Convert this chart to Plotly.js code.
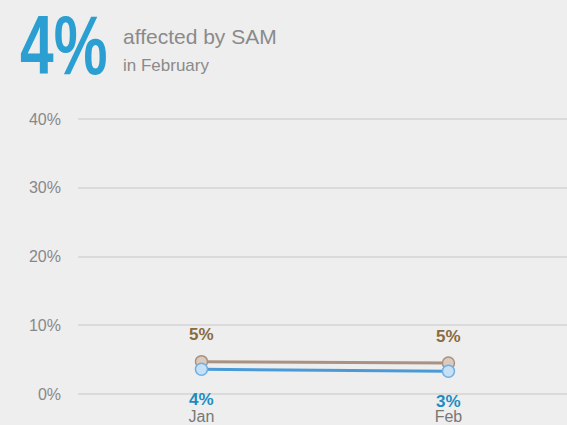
<!DOCTYPE html>
<html><head><meta charset="utf-8">
<script src="https://cdn.plot.ly/plotly-3.0.1.min.js"></script>
<style>html,body{margin:0;padding:0;background:#eeeeee;}#chart{width:567px;height:425px;}</style>
</head><body><div id="chart"></div>
<script>
const months = ['Jan', 'Feb'];
const seriesA = [4.7, 4.5];   // tan series
const seriesB = [3.6, 3.3];   // blue series (SAM)
const yTicks = [0, 10, 20, 30, 40];
const yTickLabels = ['0%', '10%', '20%', '30%', '40%'];
const headline = '4%';

const tanLine = '#a99282', tanFill = '#dccbbd', tanText = '#8a6a40';
const blueLine = '#4a9ad8', blueFill = '#c6e0f6', blueText = '#1b8dc2';

const traces = [
  {x: months, y: seriesA, mode: 'lines+markers', line: {color: tanLine, width: 3},
   marker: {size: 12, color: tanFill, line: {color: tanLine, width: 1.5}}, hoverinfo: 'none'},
  {x: months, y: seriesB, mode: 'lines+markers', line: {color: blueLine, width: 3},
   marker: {size: 12, color: blueFill, line: {color: '#6db0e6', width: 1.5}}, hoverinfo: 'none'}
];

const annotations = [];
months.forEach((m, i) => {
  annotations.push({x: m, y: seriesA[i], xref: 'x', yref: 'y', text: '<b>' + Math.round(seriesA[i]) + '%</b>',
    showarrow: false, yshift: 27, font: {family: 'Liberation Sans, Arial, sans-serif', size: 17, color: tanText}});
  annotations.push({x: m, y: seriesB[i], xref: 'x', yref: 'y', text: '<b>' + Math.round(seriesB[i]) + '%</b>',
    showarrow: false, yshift: -30, font: {family: 'Liberation Sans, Arial, sans-serif', size: 17, color: blueText}});
});
// plot area: x 78..567 (489px), y 117..396 (279px)
const px = v => (v - 78) / 489;
const py = v => (396 - v) / 279;
const headlineIndex = annotations.length;
annotations.push({xref: 'paper', yref: 'paper', x: px(18), y: py(45), xanchor: 'left', yanchor: 'middle',
  text: '<b>' + headline + '</b>', showarrow: false,
  font: {family: 'Liberation Sans, Arial, sans-serif', size: 84, color: '#2b9fd2'}});
annotations.push({xref: 'paper', yref: 'paper', x: px(121), y: py(37), xanchor: 'left', yanchor: 'middle',
  text: 'affected by SAM', showarrow: false,
  font: {family: 'Liberation Sans, Arial, sans-serif', size: 21, color: '#8a8a8a'}});
annotations.push({xref: 'paper', yref: 'paper', x: px(121), y: py(65), xanchor: 'left', yanchor: 'middle',
  text: 'in February', showarrow: false,
  font: {family: 'Liberation Sans, Arial, sans-serif', size: 17, color: '#8a8a8a'}});

const layout = {
  width: 567, height: 425,
  margin: {l: 78, r: 0, t: 117, b: 29},
  paper_bgcolor: '#eeeeee', plot_bgcolor: '#eeeeee',
  showlegend: false,
  xaxis: {type: 'category', range: [-0.5, 1.48], showgrid: false, zeroline: false, showline: false,
    ticks: '', ticklabelstandoff: 9, tickfont: {family: 'Liberation Sans, Arial, sans-serif', size: 16, color: '#777777'}},
  yaxis: {range: [-0.3, 40.3], tickvals: yTicks, ticktext: yTickLabels, showgrid: true, gridcolor: '#dadada', gridwidth: 2,
    zeroline: false, showline: false, ticks: '', ticklabelstandoff: 16,
    tickfont: {family: 'Liberation Sans, Arial, sans-serif', size: 16, color: '#888888'}},
  annotations: annotations
};
Plotly.newPlot('chart', traces, layout, {displayModeBar: false, staticPlot: true}).then(gd => {
  // condense the big headline number horizontally, like the reference's narrow display face
  const t = gd.querySelector('.annotation[data-index="' + headlineIndex + '"] .annotation-text');
  if (t) {
    const b = t.getBBox();
    t.setAttribute('transform', `translate(${b.x},0) scale(0.72,1) translate(${-b.x},0)`);
  }
});
</script></body></html>
